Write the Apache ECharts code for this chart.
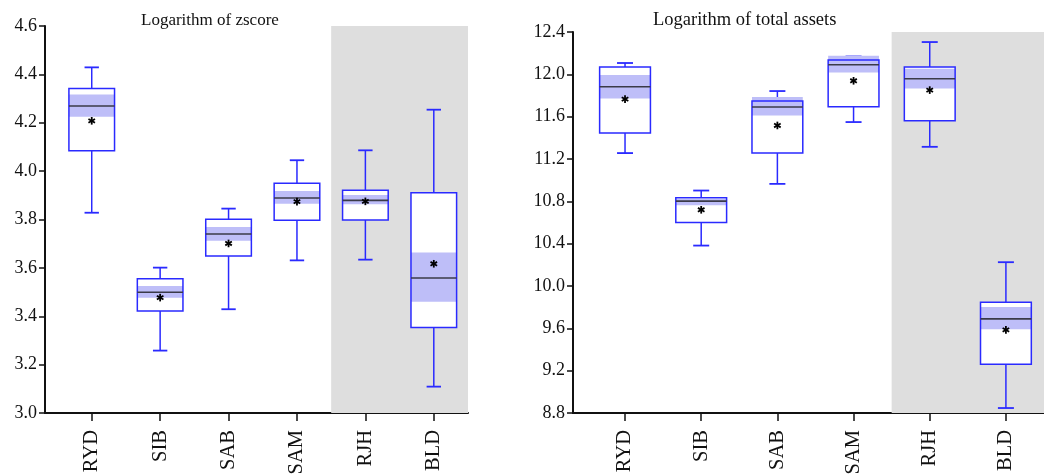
<!DOCTYPE html>
<html lang="en">
<head>
    <meta charset="UTF-8">
    <title>Boxplots</title>
    <script src="https://cdn.jsdelivr.net/npm/echarts@6/dist/echarts.min.js"></script>
</head>
<body style="margin:0">
    <div id="chart" style="width: 1044px; height: 474px;"></div>
    <script>
        const cats = ['RYD', 'SIB', 'SAB', 'SAM', 'RJH', 'BLD'];

        // Logarithm of zscore
        const zLow  = [3.828, 3.258, 3.429, 3.631, 3.634, 3.109];
        const zQ1   = [4.084, 3.422, 3.649, 3.797, 3.798, 3.354];
        const zMed  = [4.269, 3.499, 3.740, 3.889, 3.879, 3.558];
        const zQ3   = [4.342, 3.555, 3.801, 3.950, 3.921, 3.911];
        const zHigh = [4.429, 3.601, 3.845, 4.045, 4.086, 4.254];
        const zMean = [4.208, 3.477, 3.701, 3.874, 3.875, 3.617];
        const zCiLo = [4.225, 3.477, 3.712, 3.865, 3.863, 3.460];
        const zCiHi = [4.317, 3.525, 3.769, 3.918, 3.901, 3.664];

        // Logarithm of total assets
        const aLow  = [11.256, 10.382, 10.965, 11.549, 11.315, 8.847];
        const aQ1   = [11.445, 10.600, 11.256, 11.694, 11.561, 9.260];
        const aMed  = [11.883, 10.802, 11.691, 12.091, 11.958, 9.689];
        const aQ3   = [12.069, 10.833, 11.747, 12.135, 12.069, 9.847];
        const aHigh = [12.107, 10.902, 11.842, 12.169, 12.305, 10.225];
        const aMean = [11.766, 10.720, 11.517, 11.939, 11.851, 9.585];
        const aCiLo = [11.772, 10.764, 11.611, 12.018, 11.867, 9.591];
        const aCiHi = [11.993, 10.821, 11.785, 12.176, 12.053, 9.802];

        const shaded = [4, 5]; // RJH, BLD

        const myChart = echarts.init(document.getElementById('chart'));

        function rows(lo, q1, md, q3, hi, mn, cl, ch) {
            return cats.map((c, i) => [i, lo[i], q1[i], md[i], q3[i], hi[i], mn[i], cl[i], ch[i]]);
        }

        const BLUE = '#2a2aff';

        function renderBox(params, api) {
            const i = api.value(0);
            const band = api.size([1, 0])[0];
            const bw = band * 0.667;
            const cw = band * 0.21;
            const p = k => api.coord([i, api.value(k)]);
            const low = p(1), q1 = p(2), med = p(3), q3 = p(4), high = p(5), mean = p(6), cl = p(7), ch = p(8);
            const cx = low[0];
            const line = (x1, y1, x2, y2, color, w) => ({
                type: 'line',
                shape: { x1: x1, y1: y1, x2: x2, y2: y2 },
                style: { stroke: color, lineWidth: w }
            });
            const r = 3.8;
            const star = [];
            for (let a = 0; a < 3; a++) {
                const ang = Math.PI / 2 + a * Math.PI / 3;
                star.push(line(mean[0] - r * Math.cos(ang), mean[1] - r * Math.sin(ang),
                    mean[0] + r * Math.cos(ang), mean[1] + r * Math.sin(ang), '#000', 1.8));
            }
            return {
                type: 'group',
                children: [
                    line(cx, high[1], cx, q3[1], BLUE, 1.5),
                    line(cx, q1[1], cx, low[1], BLUE, 1.5),
                    line(cx - cw / 2, high[1], cx + cw / 2, high[1], BLUE, 1.8),
                    line(cx - cw / 2, low[1], cx + cw / 2, low[1], BLUE, 1.8),
                    {
                        type: 'rect',
                        shape: { x: cx - bw / 2, y: q3[1], width: bw, height: q1[1] - q3[1] },
                        style: { fill: '#fff', stroke: null }
                    },
                    {
                        type: 'rect',
                        shape: { x: cx - bw / 2, y: ch[1], width: bw, height: cl[1] - ch[1] },
                        style: { fill: '#bebef8', stroke: null }
                    },
                    {
                        type: 'rect',
                        shape: { x: cx - bw / 2, y: q3[1], width: bw, height: q1[1] - q3[1] },
                        style: { fill: null, stroke: BLUE, lineWidth: 1.5 }
                    },
                    line(cx - bw / 2, med[1], cx + bw / 2, med[1], '#3a3a48', 1.6)
                ].concat(star)
            };
        }

        const labelFont = { fontFamily: 'Liberation Serif', color: '#111' };

        function xAxisFor(gi) {
            return {
                gridIndex: gi,
                type: 'value',
                min: -0.683,
                max: 5.5,
                splitLine: { show: false },
                axisLine: { onZero: false, lineStyle: { color: '#111', width: 2 } },
                axisTick: { customValues: [0, 1, 2, 3, 4, 5], length: 8, lineStyle: { color: '#111', width: 1.5 } },
                axisLabel: Object.assign({
                    customValues: [0, 1, 2, 3, 4, 5],
                    formatter: v => cats[v],
                    rotate: 90,
                    fontSize: 20.5,
                    margin: 17
                }, labelFont)
            };
        }

        function yAxisFor(gi, mn, mx, step) {
            return {
                gridIndex: gi,
                type: 'value',
                min: mn,
                max: mx,
                interval: step,
                splitLine: { show: false },
                axisLine: { show: true, onZero: false, lineStyle: { color: '#111', width: 2 } },
                axisTick: { show: true, length: 6, lineStyle: { color: '#111', width: 1.5 } },
                axisLabel: Object.assign({
                    fontSize: 18,
                    margin: 8,
                    formatter: v => v.toFixed(1)
                }, labelFont)
            };
        }

        const grayArea = {
            silent: true,
            itemStyle: { color: '#dedede' },
            data: [[{ xAxis: shaded[0] - 0.5 }, { xAxis: shaded[1] + 0.5 }]]
        };

        const option = {
            backgroundColor: '#fff',
            animation: false,
            title: [
                { text: 'Logarithm of zscore', left: 141, top: 12, padding: 0,
                  textStyle: { fontFamily: 'Liberation Serif', fontWeight: 'normal', fontSize: 17, color: '#111' } },
                { text: 'Logarithm of total assets', left: 653, top: 11, padding: 0,
                  textStyle: { fontFamily: 'Liberation Serif', fontWeight: 'normal', fontSize: 18.5, color: '#111' } }
            ],
            grid: [
                { left: 45, top: 26, width: 423, height: 387, outerBoundsMode: 'none' },
                { left: 573, top: 32, width: 471, height: 381, outerBoundsMode: 'none' }
            ],
            xAxis: [xAxisFor(0), xAxisFor(1)],
            yAxis: [yAxisFor(0, 3.0, 4.6, 0.2), yAxisFor(1, 8.8, 12.4, 0.4)],
            series: [
                {
                    type: 'custom',
                    xAxisIndex: 0,
                    yAxisIndex: 0,
                    renderItem: renderBox,
                    encode: { x: 0, y: [1, 2, 3, 4, 5, 6, 7, 8] },
                    data: rows(zLow, zQ1, zMed, zQ3, zHigh, zMean, zCiLo, zCiHi),
                    markArea: grayArea
                },
                {
                    type: 'custom',
                    xAxisIndex: 1,
                    yAxisIndex: 1,
                    renderItem: renderBox,
                    encode: { x: 0, y: [1, 2, 3, 4, 5, 6, 7, 8] },
                    data: rows(aLow, aQ1, aMed, aQ3, aHigh, aMean, aCiLo, aCiHi),
                    markArea: grayArea
                }
            ]
        };
        myChart.setOption(option);
    </script>
</body>
</html>
